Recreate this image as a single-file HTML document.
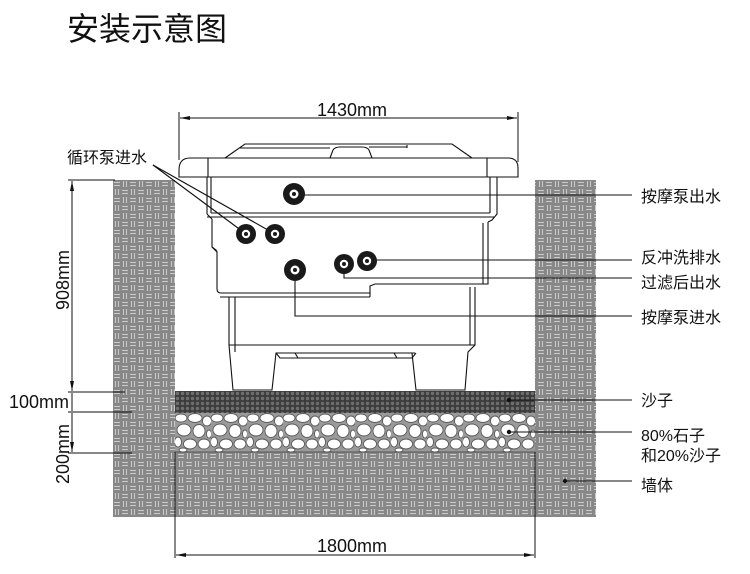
<!DOCTYPE html>
<html><head><meta charset="utf-8"><style>
html,body{margin:0;padding:0;background:#fff;}
svg{display:block;}
.t{font-family:"Liberation Sans","Noto Sans CJK SC",sans-serif;fill:#111;}
</style></head><body>
<svg width="750" height="574" viewBox="0 0 750 574" xmlns="http://www.w3.org/2000/svg">
<defs>
<pattern id="wall" width="16" height="16" patternUnits="userSpaceOnUse" x="113" y="180">
<rect width="16" height="16" fill="#878787"/>
<g stroke="#c9c9c9" stroke-width="1.1">
<line x1="1" y1="2.5" x2="7" y2="2.5"/><line x1="1" y1="5.5" x2="7" y2="5.5"/>
<line x1="10.5" y1="1" x2="10.5" y2="7"/><line x1="13.5" y1="1" x2="13.5" y2="7"/>
<line x1="2.5" y1="9" x2="2.5" y2="15"/><line x1="5.5" y1="9" x2="5.5" y2="15"/>
<line x1="9" y1="10.5" x2="15" y2="10.5"/><line x1="9" y1="13.5" x2="15" y2="13.5"/>
</g>
</pattern>
<pattern id="sand" width="5" height="5" patternUnits="userSpaceOnUse" x="175" y="391">
<rect width="5" height="5" fill="#3c3c3c"/>
<circle cx="2.5" cy="2.5" r="1.7" fill="#6e6e6e"/>
</pattern>
<pattern id="gravel" width="36" height="39" patternUnits="userSpaceOnUse" x="175" y="413">
<rect width="36" height="39" fill="#9a9a9a"/>
<g fill="#fff" stroke="#5a5a5a" stroke-width="0.9">
<ellipse cx="6" cy="5" rx="6" ry="4"/>
<ellipse cx="20" cy="5" rx="7" ry="4.5"/>
<ellipse cx="32" cy="8" rx="4.5" ry="5"/>
<ellipse cx="9" cy="17" rx="7" ry="6"/>
<ellipse cx="24" cy="18" rx="6" ry="6.5"/>
<ellipse cx="34" cy="21" rx="2.5" ry="4"/>
<ellipse cx="3" cy="29" rx="3.5" ry="5"/>
<ellipse cx="15" cy="31" rx="6.5" ry="5"/>
<ellipse cx="29" cy="31" rx="6" ry="5"/>
<ellipse cx="8" cy="37" rx="4" ry="2"/>
</g>
</pattern>
<marker id="ah" markerWidth="10" markerHeight="6" refX="10" refY="3" orient="auto" markerUnits="userSpaceOnUse">
<path d="M0,1 L10,3 L0,5 Z" fill="#111"/>
</marker>
<marker id="ahs" markerWidth="10" markerHeight="6" refX="0" refY="3" orient="auto" markerUnits="userSpaceOnUse">
<path d="M10,1 L0,3 L10,5 Z" fill="#111"/>
</marker>
</defs>

<!-- title -->
<text class="t" x="67" y="40" font-size="32">安装示意图</text>

<!-- walls -->
<rect x="113" y="180" width="62" height="337" fill="url(#wall)"/>
<rect x="535" y="180" width="61" height="337" fill="url(#wall)"/>
<rect x="175" y="452" width="360" height="65" fill="url(#wall)"/>
<rect x="175" y="391" width="360" height="22" fill="url(#sand)"/>
<rect x="175" y="413" width="360" height="39" fill="url(#gravel)"/>
<line x1="175" y1="452" x2="535" y2="452" stroke="#555" stroke-width="1"/>

<!-- tub -->
<g fill="none" stroke="#111" stroke-width="1.1">
<path d="M225,158 L245,144 L452,144 L472,158" fill="#fff"/>
<line x1="240" y1="148" x2="330" y2="148"/>
<path d="M330,158 L333,150 Q335,147 340,147 L362,147 Q367,147 369,150 L372,158"/>
<line x1="369" y1="147" x2="407" y2="147"/>
<line x1="407" y1="145" x2="407" y2="148"/>
<path d="M179,170 Q179,158 190,158 L508,158 Q518,158 518,168 L518,177 L179,177 Z" fill="#fff"/>
<line x1="208" y1="158" x2="208" y2="177"/>
<line x1="487" y1="158" x2="487" y2="177"/>
<line x1="207" y1="177" x2="207" y2="214"/>
<line x1="211" y1="177" x2="211" y2="213"/>
<line x1="490" y1="177" x2="490" y2="213"/>
<path d="M497,177 L497,214 L492,220 L488,222"/>
<line x1="211" y1="213" x2="490" y2="213"/>
<line x1="207" y1="217" x2="494" y2="217"/>
<path d="M207,214 L212,219"/>
<path d="M212,219 L212,247 L217,252 L217,289 Q217,293 221,293 L370,293 L370,286 L375,284 L488,284 L488,222"/>
<line x1="483" y1="223" x2="483" y2="284"/>
<path d="M212,247 L216,250 L217,252"/>
<line x1="220" y1="297" x2="370" y2="297"/>
<line x1="370" y1="293" x2="370" y2="297"/>
<path d="M229,297 L229,345 L233,390 L272,390 L276,353 L415,353 L412,353 L416,390 L465,390 L468,352 L475,345 L475,287"/>
<line x1="235" y1="297" x2="235" y2="352"/>
<line x1="470" y1="287" x2="470" y2="345"/>
<line x1="229" y1="345" x2="475" y2="345"/>
<path d="M276,353 L280,358 L412,358 L416,353"/>
<line x1="295" y1="353" x2="298" y2="358"/>
<line x1="394" y1="353" x2="397" y2="358"/>
</g>

<!-- leader lines -->
<g stroke="#111" stroke-width="1.1" fill="none">
<line x1="294" y1="195" x2="632" y2="195"/>
<line x1="367" y1="260" x2="632" y2="260"/>
<path d="M344,264 L344,278 L632,278"/>
<path d="M295,270 L295,316 L632,316"/>
<line x1="509" y1="400" x2="632" y2="400"/>
<line x1="509" y1="432" x2="632" y2="432"/>
<line x1="565" y1="481" x2="632" y2="481"/>
<line x1="153" y1="165" x2="246" y2="234"/>
<line x1="153" y1="165" x2="275" y2="234"/>
</g>
<g fill="#111">
<circle cx="509" cy="400" r="2.2"/>
<circle cx="509" cy="432" r="2.2"/>
<circle cx="565" cy="481" r="2.2"/>
</g>

<!-- pipes -->
<g>
<circle cx="294" cy="194" r="11" fill="#1a1a1a"/><circle cx="294" cy="194" r="4.5" fill="#fff"/><circle cx="294" cy="194" r="2" fill="#1a1a1a"/>
<circle cx="246" cy="234" r="10" fill="#1a1a1a"/><circle cx="246" cy="234" r="4.2" fill="#fff"/><circle cx="246" cy="234" r="2" fill="#1a1a1a"/>
<circle cx="275" cy="234" r="10" fill="#1a1a1a"/><circle cx="275" cy="234" r="4.2" fill="#fff"/><circle cx="275" cy="234" r="2" fill="#1a1a1a"/>
<circle cx="295" cy="270" r="11" fill="#1a1a1a"/><circle cx="295" cy="270" r="4.5" fill="#fff"/><circle cx="295" cy="270" r="2" fill="#1a1a1a"/>
<circle cx="344" cy="264" r="10" fill="#1a1a1a"/><circle cx="344" cy="264" r="4.2" fill="#fff"/><circle cx="344" cy="264" r="2" fill="#1a1a1a"/>
<circle cx="367" cy="261" r="10" fill="#1a1a1a"/><circle cx="367" cy="261" r="4.2" fill="#fff"/><circle cx="367" cy="261" r="2" fill="#1a1a1a"/>
</g>

<!-- dimensions -->
<g stroke="#111" stroke-width="1" fill="none">
<line x1="179" y1="112" x2="179" y2="160"/>
<line x1="518" y1="112" x2="518" y2="162"/>
<line x1="180" y1="118" x2="517" y2="118" marker-start="url(#ahs)" marker-end="url(#ah)"/>
<line x1="175" y1="452" x2="175" y2="558"/>
<line x1="535" y1="452" x2="535" y2="558"/>
<line x1="176" y1="555" x2="534" y2="555" marker-start="url(#ahs)" marker-end="url(#ah)"/>
<line x1="68" y1="180" x2="115" y2="180"/>
<line x1="68" y1="392" x2="125" y2="392"/>
<line x1="68" y1="412" x2="132" y2="412"/>
<line x1="68" y1="453" x2="132" y2="453"/>
<line x1="72" y1="181" x2="72" y2="391" marker-start="url(#ahs)" marker-end="url(#ah)"/>
<line x1="72" y1="393" x2="72" y2="411"/>
<line x1="72" y1="413" x2="72" y2="452" marker-end="url(#ah)"/>
</g>

<!-- text -->
<text class="t" x="352" y="116" font-size="18" text-anchor="middle">1430mm</text>
<text class="t" x="352" y="552" font-size="18" text-anchor="middle">1800mm</text>
<text class="t" x="69" y="408" font-size="18" text-anchor="end">100mm</text>
<text class="t" font-size="18" text-anchor="middle" transform="translate(69,280) rotate(-90)">908mm</text>
<text class="t" font-size="18" text-anchor="middle" transform="translate(69,454) rotate(-90)">200mm</text>

<g class="t" font-size="16">
<text x="67" y="163">循环泵进水</text>
<text x="641" y="202">按摩泵出水</text>
<text x="641" y="263">反冲洗排水</text>
<text x="641" y="288">过滤后出水</text>
<text x="641" y="323">按摩泵进水</text>
<text x="641" y="406">沙子</text>
<text x="641" y="441">80%石子</text>
<text x="641" y="461">和20%沙子</text>
<text x="641" y="491">墙体</text>
</g>
</svg>
</body></html>
